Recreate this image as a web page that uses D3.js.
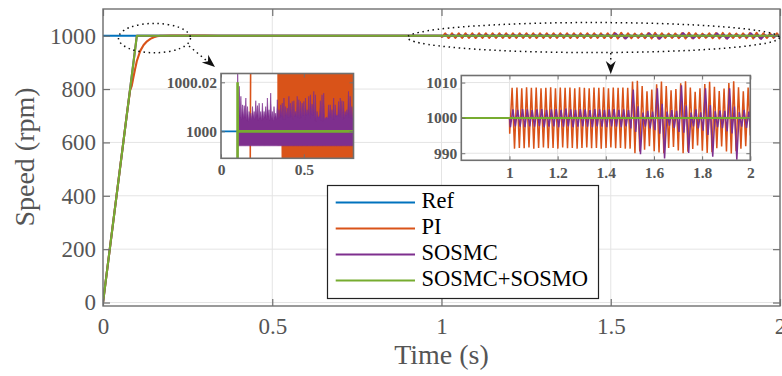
<!DOCTYPE html>
<html><head><meta charset="utf-8">
<script src="https://cdn.jsdelivr.net/npm/d3@7"></script>
<style>
body{margin:0;background:#fff;}
svg{display:block;}
text{font-family:"Liberation Serif","Times New Roman",serif;}
</style></head><body>
<svg id="c" width="782" height="376"></svg>
<script>
// ---------------- DATA ----------------
const seriesNames = ["Ref", "PI", "SOSMC", "SOSMC+SOSMO"];
const xTicks = [0, 0.5, 1, 1.5, 2];
const yTicks = [0, 200, 400, 600, 800, 1000];
const inset1XTicks = [0, 0.5];
const inset1YTicks = [1000, 1000.02];
const inset2XTicks = [1, 1.2, 1.4, 1.6, 1.8, 2];
const inset2YTicks = [990, 1000, 1010];

// Ref
const refT = [0, 2];
const refV = [1000, 1000];

// PI transient
const piT = [0, 0.07, 0.08, 0.085, 0.09, 0.095, 0.10, 0.11, 0.12, 0.13, 0.14, 0.15, 0.16, 0.17, 0.177, 0.20, 0.25, 0.30, 0.34, 1.0];
const piV = [0, 700, 795, 812, 845, 876, 905, 943, 965, 979, 988, 994, 997.8, 999.7, 1000, 1000.3, 1000.2, 1000.08, 1000.03, 1000];
// PI oscillation (sampled every oscStep from piOscT0)
const oscStep = 0.01;
const piOscT0 = 1.001;
const piOscV = [995.5,
 1008.5, 991.3, 1008.6, 991.5, 1008.4, 991.4, 1008.7, 991.6, 1008.5, 991.3,
 1008.6, 991.5, 1008.4, 991.6, 1008.5, 991.4, 1008.7, 991.5, 1008.4, 991.3,
 1008.6, 991.6, 1008.5, 991.4, 1008.6, 991.5, 1008.4, 991.3, 1008.7, 991.5,
 1008.5, 991.6, 1008.4, 991.4, 1008.6, 991.5, 1008.5, 991.3, 1008.7, 991.5,
 1008.4, 991.6, 1008.6, 991.4, 1008.5, 991.5, 1008.6, 991.3, 1008.5, 991.3,
 1010.3, 990.0, 1010.5, 990.5, 1009.0, 991.0, 1007.5, 992.0, 1008.0, 990.6,
 1009.5, 990.2, 1010.3, 990.0, 1009.0, 991.5, 1007.8, 991.8, 1008.2, 990.8,
 1009.8, 990.0, 1010.4, 990.4, 1008.6, 991.2, 1007.4, 992.2, 1008.4, 990.7,
 1009.6, 990.1, 1010.2, 990.3, 1008.8, 991.4, 1007.6, 991.9, 1008.3, 990.5,
 1009.9, 989.9, 1010.4, 990.6, 1008.7, 991.3, 1007.5, 992.0, 1008.6];
const piEnd = [2.0, 995];
// PI noise band inside inset 1 (0.34 .. 0.8 s)
const piNoiseT = [0.34, 0.365, 0.366, 0.8];
const piNoiseHi = [1000.03, 1000.03, 1000.03, 1000.03];
const piNoiseLo = [999.9943, 999.9943, 999.985, 999.985];

// SOSMC
const smcT = [0, 0.1, 1.0];
const smcV = [0, 1000, 1000];
const smcOscT0 = 1.004;
const smcOscV = [
 997.4, 1002.4, 997.6, 1002.3, 997.5, 1002.5, 997.4, 1002.4, 997.6, 1002.2,
 997.5, 1002.4, 997.7, 1002.5, 997.4, 1002.3, 997.5, 1002.4, 997.6, 1002.5,
 997.4, 1002.3, 997.5, 1002.6, 997.6, 1002.4, 997.4, 1002.3, 997.5, 1002.5,
 997.6, 1002.4, 997.5, 1002.2, 997.4, 1002.5, 997.6, 1002.4, 997.5, 1002.3,
 997.4, 1002.4, 997.6, 1002.5, 997.5, 1002.3, 997.4, 1002.4, 997.6, 1002.2,
 997.0, 1008.0, 996.0, 1003.3, 989.7, 1001.5, 997.5, 1002.0, 997.0, 1001.8,
 996.5, 1008.4, 995.5, 1004.0, 988.5, 1001.8, 997.8, 1002.2, 997.2, 1002.0,
 996.0, 1009.2, 995.8, 1003.5, 990.1, 1001.5, 997.6, 1002.4, 997.0, 1001.6,
 996.4, 1008.4, 995.2, 1003.6, 989.0, 1001.9, 997.4, 1002.1, 997.1, 1002.0,
 996.2, 1008.4, 995.6, 1003.2, 988.2, 1001.6, 997.5, 1002.3, 997.2, 1001.8];
const smcEnd = [2.0, 997.3];
// SOSMC chattering band inside inset 1 (peaks every bandStep, valleys halfway)
const bandT0 = 0.10, bandStep = 0.01;
const bandPeaks = [1000.030,
 1000.0184, 1000.0143, 1000.0108, 1000.0105, 1000.0136, 1000.0101, 1000.0081, 1000.0074, 1000.0101, 1000.0081,
 1000.0125, 1000.0105, 1000.0115, 1000.0081, 1000.0115, 1000.0081, 1000.0101, 1000.0136, 1000.0088, 1000.0156,
 1000.0081, 1000.0101, 1000.0074, 1000.0129, 1000.0088, 1000.0108, 1000.0115, 1000.0136, 1000.0101, 1000.0095,
 1000.0143, 1000.0115, 1000.0122, 1000.0125, 1000.0081, 1000.0143, 1000.0129, 1000.0122, 1000.0115, 1000.0122,
 1000.0136, 1000.0088, 1000.0143, 1000.0149, 1000.0111, 1000.0163, 1000.0149, 1000.0081, 1000.0056, 1000.0125,
 1000.0149, 1000.0156, 1000.0053, 1000.0056, 1000.0108, 1000.0108, 1000.0088, 1000.0136, 1000.0108, 1000.0067,
 1000.0122, 1000.0136, 1000.0125, 1000.0122, 1000.0081, 1000.0088, 1000.0163, 1000.0143, 1000.0101, 1000.0095];
const bandValleys = [
 1000.0060, 1000.0055, 1000.0048, 1000.0052, 1000.0058, 1000.0045, 1000.0040, 1000.0050, 1000.0047, 1000.0055,
 1000.0050, 1000.0060, 1000.0046, 1000.0052, 1000.0044, 1000.0050, 1000.0058, 1000.0049, 1000.0062, 1000.0045,
 1000.0051, 1000.0043, 1000.0056, 1000.0048, 1000.0053, 1000.0057, 1000.0061, 1000.0050, 1000.0049, 1000.0063,
 1000.0058, 1000.0055, 1000.0060, 1000.0047, 1000.0062, 1000.0059, 1000.0057, 1000.0054, 1000.0058, 1000.0064,
 1000.0048, 1000.0066, 1000.0068, 1000.0052, 1000.0070, 1000.0066, 1000.0046, 1000.0042, 1000.0061, 1000.0068,
 1000.0045, 1000.0040, 1000.0047, 1000.0058, 1000.0052, 1000.0060, 1000.0055, 1000.0050, 1000.0049, 1000.0062,
 1000.0064, 1000.0060, 1000.0055, 1000.0048, 1000.0052, 1000.0065, 1000.0067, 1000.0058, 1000.0054, 1000.0050];
const bandLow = 999.9941;

// SOSMC+SOSMO
const obsT = [0, 0.0995, 0.1, 0.1012, 2];
const obsV = [0, 995, 1000.02, 1000, 1000];

// ---------------- BUILD SERIES ----------------
const zip = (t, v) => t.map((d, i) => [d, v[i]]);
const refPts = zip(refT, refV);
const piPts = zip(piT, piV).concat(piOscV.map((v, i) => [piOscT0 + i * oscStep, v]), [piEnd]);
const smcPts = zip(smcT, smcV).concat(smcOscV.map((v, i) => [smcOscT0 + i * oscStep, v]), [smcEnd]);
const obsPts = zip(obsT, obsV);
const bandPts = [];
bandPeaks.forEach((v, i) => {
  bandPts.push([bandT0 + i * bandStep, v]);
  if (i < bandValleys.length) bandPts.push([bandT0 + (i + 0.5) * bandStep, bandValleys[i]]);
});
const piNoise = piNoiseT.map((t, i) => ({t, hi: piNoiseHi[i], lo: piNoiseLo[i]}));

// ---------------- STYLE ----------------
const COL = {ref: "#0072BD", pi: "#D95319", smc: "#7E2F8E", obs: "#77AC30"};
const seriesColors = [COL.ref, COL.pi, COL.smc, COL.obs];
const axisCol = "#707070", textCol = "#555", gridCol = "#e4e4e4";

const svg = d3.select("#c");
const defs = svg.append("defs");

function makeClip(id, xs, ys) {
  defs.append("clipPath").attr("id", id).append("rect")
    .attr("x", xs.range()[0]).attr("y", ys.range()[1])
    .attr("width", xs.range()[1] - xs.range()[0])
    .attr("height", ys.range()[0] - ys.range()[1]);
}

function drawGrid(g, xs, ys, xt, yt) {
  const [x0, x1] = xs.range(), [y0, y1] = ys.range();
  g.append("g").selectAll("line").data(xt).join("line")
    .attr("x1", d => xs(d)).attr("x2", d => xs(d)).attr("y1", y0).attr("y2", y1)
    .attr("stroke", gridCol).attr("stroke-width", 1);
  g.append("g").selectAll("line").data(yt).join("line")
    .attr("y1", d => ys(d)).attr("y2", d => ys(d)).attr("x1", x0).attr("x2", x1)
    .attr("stroke", gridCol).attr("stroke-width", 1);
}

function drawFrame(g, xs, ys, xt, yt, o) {
  const [x0, x1] = xs.range(), [y0, y1] = ys.range();
  const fmt = d => String(d);
  const style = sel => {
    sel.select(".domain").remove();
    sel.selectAll(".tick line").attr("stroke", axisCol).attr("stroke-width", o.tw);
    sel.selectAll("text").attr("fill", textCol).attr("font-size", o.fs)
      .attr("font-weight", o.bold ? "bold" : "normal")
      .attr("font-family", '"Liberation Serif","Times New Roman",serif');
  };
  g.append("g").attr("transform", `translate(0,${y0})`)
    .call(d3.axisBottom(xs).tickValues(xt).tickSize(-o.tl).tickPadding(o.xpad).tickFormat(fmt)).call(style);
  g.append("g").attr("transform", `translate(0,${y1})`)
    .call(d3.axisTop(xs).tickValues(xt).tickSize(-o.tl).tickFormat("")).call(style);
  g.append("g").attr("transform", `translate(${x0},0)`)
    .call(d3.axisLeft(ys).tickValues(yt).tickSize(-o.tl).tickPadding(o.ypad).tickFormat(fmt)).call(style);
  g.append("g").attr("transform", `translate(${x1},0)`)
    .call(d3.axisRight(ys).tickValues(yt).tickSize(-o.tl).tickFormat("")).call(style);
  g.append("rect").attr("x", x0).attr("y", y1).attr("width", x1 - x0).attr("height", y0 - y1)
    .attr("fill", "none").attr("stroke", axisCol).attr("stroke-width", o.bw);
}

function lineGen(xs, ys) { return d3.line().x(d => xs(d[0])).y(d => ys(d[1])); }

// ---------------- MAIN AXES ----------------
const x = d3.scaleLinear().domain([0, 2]).range([103, 780]);
const y = d3.scaleLinear().domain([-13, 1100]).range([306, 9]);
makeClip("clipMain", x, y);

const main = svg.append("g");
drawGrid(main, x, y, xTicks, yTicks);
const mainData = main.append("g").attr("clip-path", "url(#clipMain)");
const lm = lineGen(x, y);
[[refPts, COL.ref], [piPts, COL.pi], [smcPts, COL.smc], [obsPts, COL.obs]].forEach(([pts, c]) => {
  mainData.append("path").attr("d", lm(pts)).attr("fill", "none").attr("stroke", c)
    .attr("stroke-width", 2.1).attr("stroke-linejoin", "round");
});
drawFrame(main, x, y, xTicks, yTicks, {tl: 7, tw: 1.2, bw: 1.4, fs: 23, xpad: 12, ypad: 7, bold: false});

// axis labels
svg.append("text").attr("x", x(1)).attr("y", 364).attr("text-anchor", "middle")
  .attr("font-size", 28).attr("fill", textCol).text("Time (s)");
svg.append("text").attr("transform", "translate(34,157) rotate(-90)").attr("text-anchor", "middle")
  .attr("font-size", 28).attr("fill", textCol).text("Speed (rpm)");

// ---------------- ANNOTATIONS ----------------
const ann = svg.append("g").attr("fill", "none").attr("stroke", "#111")
  .attr("stroke-width", 1.5).attr("stroke-dasharray", "1.5,3.6");
ann.append("ellipse").attr("cx", x(0.152)).attr("cy", y(991)).attr("rx", 36).attr("ry", 14.7);
ann.append("ellipse").attr("cx", x(1.449)).attr("cy", y(993)).attr("rx", 186).attr("ry", 15);
ann.append("line").attr("x1", 189).attr("y1", 46).attr("x2", 207).attr("y2", 61);
ann.append("line").attr("x1", x(1.5)).attr("y1", 53).attr("x2", x(1.5)).attr("y2", 63);
function arrowHead(tx, ty, dx, dy, len, hw) {
  const L = Math.hypot(dx, dy), ux = dx / L, uy = dy / L, px = -uy, py = ux;
  const bx = tx - ux * len, by = ty - uy * len;
  const mx = tx - ux * len * 0.7, my = ty - uy * len * 0.7;
  svg.append("path").attr("d",
    `M${tx},${ty} L${bx + px * hw},${by + py * hw} L${mx},${my} L${bx - px * hw},${by - py * hw} Z`)
    .attr("fill", "#111");
}
arrowHead(215, 67, 24, 20, 13, 5);
arrowHead(x(1.5), 74, 0, 1, 13, 5);

// ---------------- INSET 1 ----------------
const x1s = d3.scaleLinear().domain([0, 0.8]).range([221, 353.5]);
const y1s = d3.scaleLinear().domain([999.989, 1000.0236]).range([158.3, 73.5]);
makeClip("clipIn1", x1s, y1s);
const in1 = svg.append("g");
in1.append("rect").attr("x", 221).attr("y", 73.5).attr("width", 132.5).attr("height", 84.8).attr("fill", "#fff");
drawGrid(in1, x1s, y1s, inset1XTicks, inset1YTicks);
const d1 = in1.append("g").attr("clip-path", "url(#clipIn1)");
const l1 = lineGen(x1s, y1s);
d1.append("path").attr("d", l1(refPts)).attr("fill", "none").attr("stroke", COL.ref).attr("stroke-width", 1.6);
d1.append("path").attr("d", l1(piPts)).attr("fill", "none").attr("stroke", COL.pi).attr("stroke-width", 1.6);
d1.append("path").attr("d", d3.area().x(d => x1s(d.t)).y0(d => y1s(d.lo)).y1(d => y1s(d.hi))(piNoise))
  .attr("fill", COL.pi);
d1.append("path").attr("d", l1(smcPts)).attr("fill", "none").attr("stroke", COL.smc).attr("stroke-width", 1.6);
d1.append("path").attr("d", d3.area().x(d => x1s(d[0])).y0(y1s(bandLow)).y1(d => y1s(d[1]))(bandPts))
  .attr("fill", COL.smc).attr("stroke", COL.smc).attr("stroke-width", 0.6);
d1.append("path").attr("d", l1(obsPts)).attr("fill", "none").attr("stroke", COL.obs).attr("stroke-width", 2.6);
drawFrame(in1, x1s, y1s, inset1XTicks, inset1YTicks, {tl: 4, tw: 1, bw: 1.6, fs: 15.5, xpad: 6, ypad: 4, bold: true});

// ---------------- INSET 2 ----------------
const x2s = d3.scaleLinear().domain([0.8, 2]).range([461.3, 750.3]);
const y2s = d3.scaleLinear().domain([988, 1012]).range([160.3, 75.5]);
makeClip("clipIn2", x2s, y2s);
const in2 = svg.append("g");
in2.append("rect").attr("x", 461.3).attr("y", 75.5).attr("width", 289).attr("height", 84.8).attr("fill", "#fff");
drawGrid(in2, x2s, y2s, inset2XTicks, inset2YTicks);
const d2 = in2.append("g").attr("clip-path", "url(#clipIn2)");
const l2 = lineGen(x2s, y2s);
d2.append("path").attr("d", l2(refPts)).attr("fill", "none").attr("stroke", COL.ref).attr("stroke-width", 1.5);
d2.append("path").attr("d", l2(piPts)).attr("fill", "none").attr("stroke", COL.pi).attr("stroke-width", 1.5);
d2.append("path").attr("d", l2(smcPts)).attr("fill", "none").attr("stroke", COL.smc).attr("stroke-width", 1.5);
d2.append("path").attr("d", l2(obsPts)).attr("fill", "none").attr("stroke", COL.obs).attr("stroke-width", 2);
drawFrame(in2, x2s, y2s, inset2XTicks, inset2YTicks, {tl: 4, tw: 1, bw: 1.6, fs: 15.5, xpad: 7, ypad: 4, bold: true});

// ---------------- LEGEND ----------------
const leg = svg.append("g");
leg.append("rect").attr("x", 327.5).attr("y", 185.5).attr("width", 271).attr("height", 113)
  .attr("fill", "#fff").attr("stroke", "#222").attr("stroke-width", 1.2);
seriesNames.forEach((name, i) => {
  const yy = 202.5 + i * 26;
  leg.append("line").attr("x1", 335.7).attr("x2", 415).attr("y1", yy).attr("y2", yy)
    .attr("stroke", seriesColors[i]).attr("stroke-width", 2);
  leg.append("text").attr("x", 421.5).attr("y", yy + 5.5).attr("font-size", 22.5).attr("fill", "#000").text(name);
});
</script></body></html>
